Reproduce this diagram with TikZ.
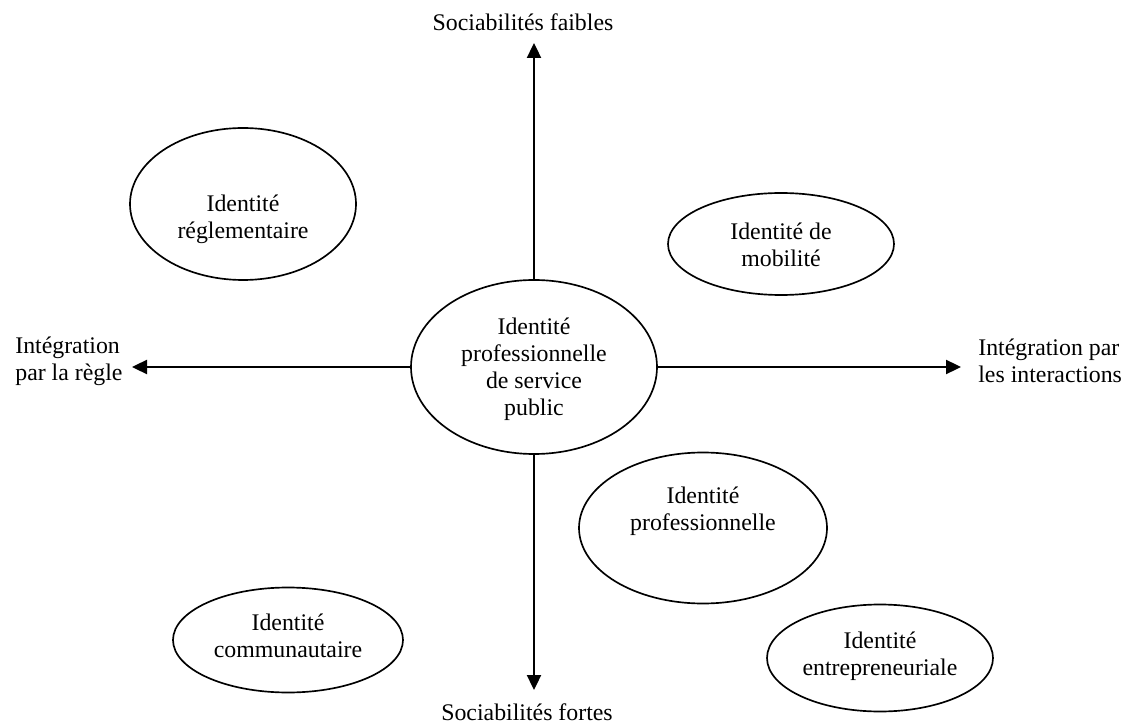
\documentclass[tikz,border=0pt]{standalone}
\usepackage{fontspec}
\setmainfont{Liberation Serif}
\usetikzlibrary{shapes.geometric,arrows.meta}

\begin{document}
\begin{tikzpicture}[x=0.6pt,y=-0.6pt,
    identite/.style={draw, ellipse, line width=1pt, inner sep=0pt},
    texte/.style={align=center, inner sep=0pt, font=\fontsize{14.3}{16.2}\selectfont},
    axe/.style={line width=1pt, -{Triangle[length=9pt,width=8.5pt]}}]

    \useasboundingbox (0,0) rectangle (1126,723);

    % Central identity
    \node[identite, minimum width=147.6pt, minimum height=104.4pt] (centre) at (534,367) {};
    \node[texte] (centre-txt) at (534,369) {Identit\'e\\professionnelle\\de service\\public};

    % Axis end points
    \coordinate (haut) at (534,43);
    \coordinate (bas) at (534,690);
    \coordinate (gauche) at (132,367);
    \coordinate (droite) at (961,367);

    % Axes
    \draw[axe] (centre.north) -- (haut);
    \draw[axe] (centre.south) -- (bas);
    \draw[axe] (centre.west) -- (gauche);
    \draw[axe] (centre.east) -- (droite);

    % Axis labels
    \node[texte] (faibles) at (523,22) {Sociabilit\'es faibles};
    \node[texte] (fortes) at (527,712) {Sociabilit\'es fortes};
    \node[texte, anchor=west, align=left] (regle) at (15,361) {Int\'egration\\par la r\`egle};
    \node[texte, anchor=west, align=left] (interactions) at (978,361) {Int\'egration par\\les interactions};

    % Other identities
    \node[identite, minimum width=135.6pt, minimum height=91.2pt] (reg) at (243,204) {};
    \node[texte] (reg-txt) at (243,219) {Identit\'e\\r\'eglementaire};

    \node[identite, minimum width=135.6pt, minimum height=61.2pt] (mob) at (781,244) {};
    \node[texte] (mob-txt) at (781,245) {Identit\'e de\\mobilit\'e};

    \node[identite, minimum width=148.8pt, minimum height=90.6pt] (pro) at (703,528) {};
    \node[texte] (pro-txt) at (703,511) {Identit\'e\\professionnelle};

    \node[identite, minimum width=138pt, minimum height=63pt] (com) at (288,640) {};
    \node[texte] (com-txt) at (288,636) {Identit\'e\\communautaire};

    \node[identite, minimum width=135.6pt, minimum height=64.2pt] (ent) at (880,658) {};
    \node[texte] (ent-txt) at (880,656) {Identit\'e\\entrepreneuriale};
\end{tikzpicture}
\end{document}
